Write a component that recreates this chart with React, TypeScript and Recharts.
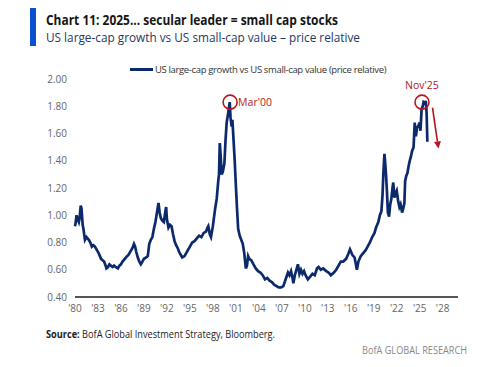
import React from "react";
import {
  LineChart,
  Line,
  XAxis,
  YAxis,
  Legend,
  ReferenceDot,
  ReferenceLine,
} from "recharts";

// decimal year of each reading
const years = [
  1980.0, 1980.1, 1980.2, 1980.35, 1980.5, 1980.6, 1980.75, 1980.85, 1981.0, 1981.1,
  1981.3, 1981.5, 1981.8, 1982.0, 1982.2, 1982.4, 1982.6, 1982.9, 1983.1, 1983.4,
  1983.6, 1983.8, 1984.0, 1984.1, 1984.3, 1984.5, 1984.7, 1984.9, 1985.1, 1985.3,
  1985.6, 1985.8, 1986.0, 1986.2, 1986.5, 1986.8, 1987.0, 1987.3, 1987.5, 1987.7,
  1987.85, 1988.0, 1988.2, 1988.4, 1988.6, 1988.8, 1989.0, 1989.3, 1989.5, 1989.7,
  1989.9, 1990.1, 1990.3, 1990.5, 1990.7, 1990.9, 1991.05, 1991.2, 1991.4, 1991.6,
  1991.8, 1991.9, 1992.0, 1992.2, 1992.4, 1992.6, 1992.8, 1993.0, 1993.2, 1993.4,
  1993.6, 1993.8, 1994.0, 1994.3, 1994.5, 1994.7, 1995.0, 1995.3, 1995.6, 1995.9,
  1996.2, 1996.5, 1996.8, 1997.1, 1997.3, 1997.4, 1997.6, 1997.75, 1998.0, 1998.3,
  1998.5, 1998.7, 1998.8, 1998.9, 1999.0, 1999.15, 1999.3, 1999.5, 1999.65, 1999.8,
  2000.0, 2000.2, 2000.3, 2000.45, 2000.55, 2000.7, 2000.85, 2001.0, 2001.15, 2001.3,
  2001.5, 2001.7, 2001.9, 2002.1, 2002.3, 2002.45, 2002.6, 2002.75, 2003.0, 2003.3,
  2003.6, 2003.9, 2004.2, 2004.5, 2004.8, 2005.1, 2005.4, 2005.7, 2006.0, 2006.3,
  2006.6, 2006.9, 2007.2, 2007.5, 2007.8, 2008.0, 2008.2, 2008.4, 2008.5, 2008.7,
  2009.0, 2009.1, 2009.3, 2009.5, 2009.7, 2009.9, 2010.1, 2010.4, 2010.7, 2011.0,
  2011.3, 2011.6, 2011.8, 2012.1, 2012.4, 2012.8, 2013.1, 2013.4, 2013.8, 2014.1,
  2014.4, 2014.7, 2015.0, 2015.4, 2015.7, 2015.9, 2016.2, 2016.5, 2016.8, 2017.0,
  2017.3, 2017.6, 2017.9, 2018.2, 2018.5, 2018.8, 2019.1, 2019.3, 2019.6, 2019.8,
  2020.0, 2020.15, 2020.25, 2020.4, 2020.5, 2020.6, 2020.7, 2020.85, 2021.0, 2021.15,
  2021.3, 2021.45, 2021.55, 2021.7, 2021.85, 2022.0, 2022.2, 2022.35, 2022.5, 2022.7,
  2022.85, 2023.0, 2023.1, 2023.25, 2023.4, 2023.55, 2023.7, 2023.85, 2024.0, 2024.2,
  2024.35, 2024.5, 2024.65, 2024.85, 2025.0, 2025.1, 2025.25, 2025.4, 2025.5, 2025.7,
  2025.8, 2025.9, 2026.0,
];

// US large-cap growth vs US small-cap value (price relative)
const relative = [
  0.92, 0.95, 1.0, 0.97, 0.95, 0.98, 1.07, 1.05, 0.93, 0.9,
  0.82, 0.84, 0.82, 0.8, 0.77, 0.78, 0.77, 0.74, 0.72, 0.68,
  0.67, 0.66, 0.63, 0.61, 0.62, 0.64, 0.63, 0.62, 0.63, 0.62,
  0.61, 0.63, 0.64, 0.66, 0.68, 0.7, 0.71, 0.74, 0.76, 0.79,
  0.77, 0.73, 0.69, 0.66, 0.64, 0.66, 0.68, 0.69, 0.7, 0.79,
  0.82, 0.84, 0.9, 0.95, 1.02, 1.09, 1.02, 0.98, 0.96, 0.95,
  1.03, 1.06, 0.97, 0.91, 0.93, 0.92, 0.86, 0.81, 0.78, 0.76,
  0.73, 0.71, 0.69, 0.7, 0.72, 0.74, 0.77, 0.8, 0.81, 0.83,
  0.85, 0.84, 0.87, 0.88, 0.91, 0.92, 0.86, 0.84, 0.92, 1.05,
  1.12, 1.25, 1.3, 1.53, 1.45, 1.3, 1.32, 1.38, 1.55, 1.68,
  1.75, 1.83, 1.72, 1.65, 1.7, 1.55, 1.4, 1.22, 1.05, 0.9,
  0.85, 0.82, 0.79, 0.72, 0.61, 0.63, 0.7, 0.68, 0.67, 0.64,
  0.61, 0.59, 0.58, 0.56, 0.53, 0.54, 0.52, 0.51, 0.49, 0.48,
  0.47, 0.47, 0.48, 0.53, 0.58, 0.56, 0.59, 0.54, 0.5, 0.56,
  0.62, 0.64, 0.57, 0.6, 0.57, 0.59, 0.56, 0.53, 0.55, 0.57,
  0.56, 0.61, 0.62, 0.6, 0.61, 0.59, 0.58, 0.56, 0.58, 0.6,
  0.63, 0.66, 0.66, 0.68, 0.72, 0.75, 0.71, 0.69, 0.6, 0.66,
  0.7, 0.72, 0.74, 0.77, 0.8, 0.84, 0.87, 0.91, 0.95, 1.0,
  1.03, 1.15, 1.3, 1.45, 1.38, 1.3, 1.2, 1.02, 0.99, 1.08,
  1.12, 1.2, 1.24, 1.13, 1.16, 1.18, 1.1, 1.06, 1.08, 1.02,
  1.05, 1.09, 1.25, 1.29, 1.31, 1.36, 1.4, 1.43, 1.47, 1.5,
  1.68, 1.58, 1.64, 1.66, 1.68, 1.62, 1.78, 1.8, 1.83, 1.82,
  1.84, 1.75, 1.54,
];

const xTicks = [1980, 1983, 1986, 1989, 1992, 1995, 1998, 2001, 2004, 2007, 2010, 2013, 2016, 2019, 2022, 2025, 2028];
const yTicks = [0.4, 0.6, 0.8, 1.0, 1.2, 1.4, 1.6, 1.8, 2.0];

const seriesName = "US large-cap growth vs US small-cap value (price relative)";
const navy = "#0c2a6b";
const red = "#b8141c";

const data = years.map((t, i) => ({ t, v: relative[i] }));

const Arrow = (props: any) => {
  const { x1, y1, x2, y2 } = props;
  const ang = Math.atan2(y2 - y1, x2 - x1);
  const len = 7;
  const w = 3.5;
  const bx = x2 - len * Math.cos(ang);
  const by = y2 - len * Math.sin(ang);
  const px = -Math.sin(ang) * w;
  const py = Math.cos(ang) * w;
  return (
    <g>
      <line x1={x1} y1={y1} x2={bx} y2={by} stroke={red} strokeWidth={1.6} />
      <polygon points={`${x2},${y2} ${bx + px},${by + py} ${bx - px},${by - py}`} fill={red} />
    </g>
  );
};

const LegendBox = () => (
  <div style={{ display: "flex", alignItems: "center", fontFamily: "Open Sans", fontSize: 9.5, color: "#333", letterSpacing: -0.35 }}>
    <span style={{ display: "inline-block", width: 23, height: 3, background: navy, marginRight: 2 }} />
    <span>{seriesName}</span>
  </div>
);

export default function App() {
  return (
    <div style={{ position: "absolute", left: 0, top: 0, width: 500, height: 367, background: "#fff" }}>
      <LineChart
        width={500}
        height={367}
        data={data}
        margin={{ top: 66, right: 42, left: 45, bottom: 50 }}
      >
        <XAxis
          dataKey="t"
          type="number"
          domain={[1980, 2030]}
          ticks={xTicks}
          tickFormatter={(v: number) => "'" + String(v).slice(2)}
          axisLine={{ stroke: "#555", strokeWidth: 2 }}
          tickLine={false}
          tick={{ fill: "#666", fontSize: 10, fontFamily: "Open Sans" }}
          height={20}
        />
        <YAxis
          type="number"
          domain={[0.4, 2.0]}
          ticks={yTicks}
          tickFormatter={(v: number) => v.toFixed(2)}
          axisLine={false}
          tickLine={false}
          tick={{ fill: "#666", fontSize: 10, fontFamily: "Open Sans" }}
          width={30}
        />
        <Legend
          verticalAlign="top"
          content={<LegendBox />}
          wrapperStyle={{ position: "absolute", top: 63, left: 130, width: 300 }}
        />
        <Line
          type="linear"
          dataKey="v"
          name={seriesName}
          stroke={navy}
          strokeWidth={2.7}
          dot={false}
          isAnimationActive={false}
        />
        <ReferenceDot
          x={2000.25}
          y={1.83}
          r={7}
          fill="none"
          stroke={red}
          strokeWidth={1.6}
          label={{ value: "Mar'00", position: "right", fill: red, fontSize: 10.5, fontFamily: "Open Sans", offset: 1 }}
        />
        <ReferenceDot
          x={2025.3}
          y={1.83}
          r={7}
          fill="none"
          stroke={red}
          strokeWidth={1.6}
          label={{ value: "Nov'25", position: "top", fill: red, fontSize: 10.5, fontFamily: "Open Sans", offset: 6 }}
        />
        <ReferenceLine
          segment={[
            { x: 2026.67, y: 1.79 },
            { x: 2027.45, y: 1.49 },
          ]}
          shape={<Arrow />}
          ifOverflow="visible"
        />
      </LineChart>

      <svg
        width={500}
        height={367}
        style={{ position: "absolute", left: 0, top: 0, pointerEvents: "none" }}
      >
        <rect x={30} y={8} width={6} height={38} fill="#0a4fd0" />
        <text x={46} y={25} fontFamily="Open Sans" fontWeight={700} fontSize={13.5} fill="#151515" textLength={292} lengthAdjust="spacingAndGlyphs">
          Chart 11: 2025... secular leader = small cap stocks
        </text>
        <text x={46} y={42} fontFamily="Open Sans" fontSize={13} fill="#1f3763" textLength={314} lengthAdjust="spacingAndGlyphs">
          US large-cap growth vs US small-cap value – price relative
        </text>
        <text x={46} y={338} fontFamily="Open Sans" fontSize={10} fill="#222" textLength={229} lengthAdjust="spacingAndGlyphs">
          <tspan fontWeight={700}>Source:</tspan> BofA Global Investment Strategy, Bloomberg.
        </text>
        <text x={362} y={354} fontFamily="Open Sans" fontSize={10} fill="#888" textLength={105} lengthAdjust="spacingAndGlyphs">
          BofA GLOBAL RESEARCH
        </text>
      </svg>
    </div>
  );
}
